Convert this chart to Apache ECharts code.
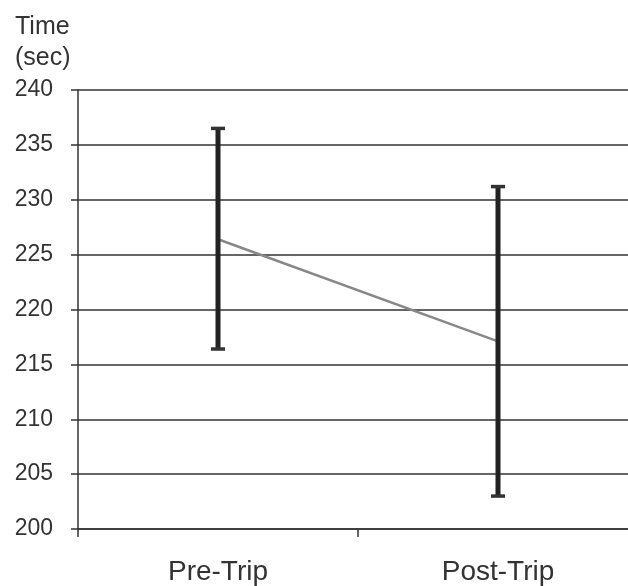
<!DOCTYPE html>
<html>
<head>
<meta charset="utf-8">
<script src="https://cdn.jsdelivr.net/npm/echarts@6/dist/echarts.min.js"></script>
<style>
  html, body { margin: 0; padding: 0; background: #fff; overflow: hidden; }
  /* the plot runs a little past the right edge of the window, as in the original */
  #chart { width: 640px; height: 586px; }
</style>
</head>
<body>
<div id="chart"></div>
<script>
// data
var categories = ['Pre-Trip', 'Post-Trip'];
var meanTime = [226.4, 217.1];
var upperTime = [236.5, 231.2];
var lowerTime = [216.4, 203.0];
var yTicks = [200, 205, 210, 215, 220, 225, 230, 235, 240];

var chart = echarts.init(document.getElementById('chart'));

var errData = categories.map(function (c, i) {
  return [i, lowerTime[i], upperTime[i]];
});

chart.setOption({
  animation: false,
  title: {
    text: 'Time\n(sec)',
    left: 10, top: 7,
    textStyle: { fontFamily: 'Liberation Sans', fontSize: 25, fontWeight: 'normal', color: '#333', lineHeight: 31 }
  },
  grid: { left: 78, right: 2, top: 90, bottom: 56 },
  xAxis: {
    type: 'category',
    data: categories,
    axisLine: { lineStyle: { color: '#333', width: 1.5 } },
    axisTick: { show: true, length: 8, lineStyle: { color: '#333', width: 1.5 } },
    axisLabel: { fontFamily: 'Liberation Sans', fontSize: 28, color: '#333', margin: 29 }
  },
  yAxis: {
    type: 'value',
    min: yTicks[0], max: yTicks[yTicks.length - 1], interval: 5,
    axisLine: { show: true, lineStyle: { color: '#333', width: 1.5 } },
    axisTick: { show: true, length: 7, lineStyle: { color: '#333', width: 1.5 } },
    axisLabel: { fontFamily: 'Liberation Sans', fontSize: 23, color: '#333', margin: 25 },
    splitLine: { lineStyle: { color: '#333', width: 1.5 } }
  },
  series: [
    {
      type: 'line',
      data: meanTime,
      symbol: 'none',
      lineStyle: { color: '#888', width: 2.5 },
      z: 3
    },
    {
      type: 'custom',
      data: errData,
      z: 4,
      renderItem: function (params, api) {
        var x = api.value(0);
        var lo = api.coord([x, api.value(1)]);
        var hi = api.coord([x, api.value(2)]);
        var cap = 7;
        var style = { stroke: '#222', lineWidth: 5 };
        return {
          type: 'group',
          children: [
            { type: 'line', shape: { x1: lo[0], y1: lo[1], x2: hi[0], y2: hi[1] }, style: style },
            { type: 'line', shape: { x1: hi[0] - cap, y1: hi[1], x2: hi[0] + cap, y2: hi[1] }, style: { stroke: '#333', lineWidth: 3.5 } },
            { type: 'line', shape: { x1: lo[0] - cap, y1: lo[1], x2: lo[0] + cap, y2: lo[1] }, style: { stroke: '#333', lineWidth: 3.5 } }
          ]
        };
      }
    }
  ]
});
</script>
</body>
</html>
